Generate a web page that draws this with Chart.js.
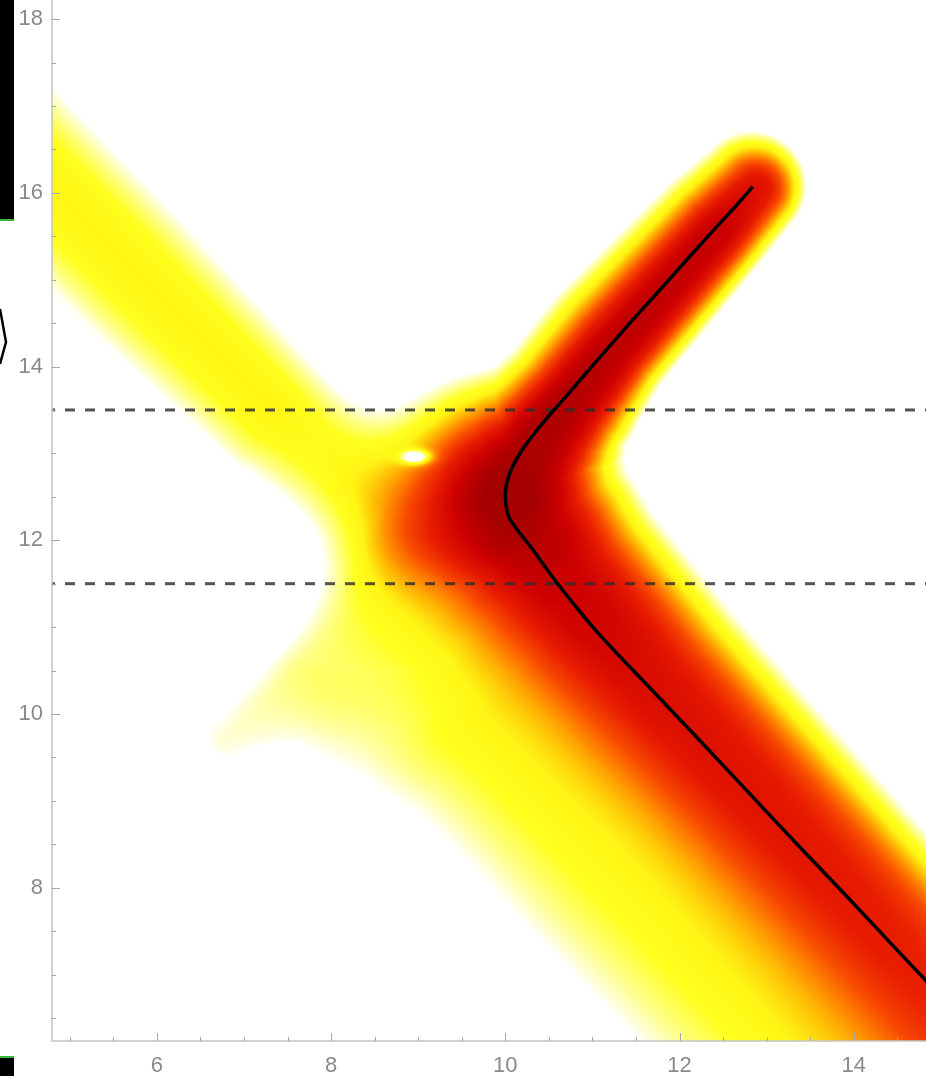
<!DOCTYPE html>
<html>
<head>
<meta charset="utf-8">
<script src="https://cdn.jsdelivr.net/npm/chart.js@4.4.1/dist/chart.umd.min.js"></script>
<style>
  html, body { margin: 0; padding: 0; background: #ffffff; }
  #wrap { width: 926px; height: 1076px; position: relative; }
</style>
</head>
<body>
<div id="wrap"><canvas id="plot" width="926" height="1076"></canvas></div>
<script>
// ---- axes ----
const xRange = [4.795, 14.83];
const yRange = [6.235, 18.22];
const xTicks = [6, 8, 10, 12, 14];
const yTicks = [8, 10, 12, 14, 16, 18];
const minorStep = 0.5;

// ---- dispersion curve (x, y) ----
const curveX = [12.84, 12.63, 12.41, 12.12, 11.80, 11.52, 11.22, 10.95, 10.70, 10.49, 10.31, 10.15, 10.04, 10.00, 10.05, 10.31, 10.60, 11.04, 11.65, 12.20, 12.77, 13.35, 13.93, 14.51, 14.83, 15.16];
const curveY = [16.07, 15.83, 15.59, 15.27, 14.91, 14.60, 14.26, 13.95, 13.66, 13.42, 13.20, 12.97, 12.74, 12.51, 12.25, 11.90, 11.50, 10.96, 10.31, 9.73, 9.12, 8.50, 7.89, 7.27, 6.93, 6.58];

// ---- horizontal cuts ----
const cutLevels = [13.5, 11.5];

// ---- spectral weight bands: [x, y, peak, width right of travel, width left of travel] ----
const bandMain = [
  [12.84, 16.07, 0.78, 0.50, 0.52],
  [12.41, 15.59, 0.88, 0.55, 0.54],
  [11.22, 14.26, 0.92, 0.62, 0.60],
  [10.70, 13.66, 0.95, 0.59, 0.72],
  [10.31, 13.20, 0.97, 0.65, 0.88],
  [10.04, 12.74, 1.00, 0.90, 1.05],
  [10.00, 12.51, 1.02, 1.10, 1.14],
  [10.05, 12.25, 0.98, 1.15, 1.16],
  [10.31, 11.90, 0.92, 1.15, 1.14],
  [10.60, 11.50, 0.86, 1.12, 1.12],
  [11.65, 10.31, 0.78, 1.12, 1.08],
  [12.77, 9.12, 0.75, 1.12, 1.04],
  [13.93, 7.89, 0.72, 1.14, 1.00],
  [15.40, 6.30, 0.68, 1.16, 1.00]
];
const bandUpperLeft = [
  [3.60, 17.25, 0.33, 0.92, 0.92],
  [5.80, 15.05, 0.33, 0.92, 0.85],
  [7.35, 13.50, 0.33, 0.82, 0.74],
  [8.65, 12.35, 0.20, 0.68, 0.68]
];
const bandLower = [
  [8.80, 11.45, 0.12, 1.20, 0.90],
  [9.62, 9.73, 0.25, 1.30, 1.10],
  [11.00, 8.20, 0.25, 1.30, 1.10],
  [12.72, 6.47, 0.25, 1.30, 1.10],
  [13.66, 5.55, 0.25, 1.30, 1.10]
];
const bandFan = [
  [8.90, 11.80, 0.05, 0.55, 0.55],
  [7.60, 10.40, 0.18, 0.55, 1.25],
  [6.80, 9.72, 0.16, 0.55, 0.55]
];
const bands = [bandMain, bandUpperLeft, bandLower, bandFan];
// profile exponent on the [right, left] of travel
const bandSharpness = [[2, 3], [2, 2], [2, 2], [2, 2]];
// spectral zero: [x, y, radius x, radius y]
const dips = [[8.96, 12.96, 0.17, 0.08]];

// ---- colour scale ----
const heatStops = [0.00, 0.14, 0.20, 0.27, 0.34, 0.42, 0.50, 0.60, 0.72, 0.86, 1.00];
const heatColors = [
  [255, 255, 255], [255, 255, 255], [255, 255, 140], [255, 255, 30], [255, 245, 20],
  [255, 190, 5], [255, 135, 0], [248, 75, 0], [232, 28, 0], [205, 0, 0], [165, 0, 0]
];

function heatColor(v) {
  if (v <= heatStops[0]) return heatColors[0];
  for (let i = 1; i < heatStops.length; i++) {
    if (v <= heatStops[i]) {
      const t = (v - heatStops[i - 1]) / (heatStops[i] - heatStops[i - 1]);
      const a = heatColors[i - 1], b = heatColors[i];
      return [a[0] + (b[0] - a[0]) * t, a[1] + (b[1] - a[1]) * t, a[2] + (b[2] - a[2]) * t];
    }
  }
  return heatColors[heatColors.length - 1];
}

// strongest contribution of any segment of a band
function bandValue(band, sharp, x, y) {
  let v = 0;
  for (let i = 0; i < band.length - 1; i++) {
    const n0 = band[i], n1 = band[i + 1];
    const dx = n1[0] - n0[0], dy = n1[1] - n0[1];
    const len = Math.sqrt(dx * dx + dy * dy);
    let t = ((x - n0[0]) * dx + (y - n0[1]) * dy) / (len * len);
    t = t < 0 ? 0 : (t > 1 ? 1 : t);
    const ex = n0[0] + t * dx - x, ey = n0[1] + t * dy - y;
    const dist = Math.sqrt(ex * ex + ey * ey);
    // -1 on the right of travel, +1 on the left, blended round the end caps
    const s = dist > 1e-9 ? (dx * (y - n0[1]) - dy * (x - n0[0])) / (len * dist) : 0;
    const sc = s > 1 ? 1 : (s < -1 ? -1 : s);
    const peak = n0[2] + (n1[2] - n0[2]) * t;
    const wr = n0[3] + (n1[3] - n0[3]) * t;
    const wl = n0[4] + (n1[4] - n0[4]) * t;
    const w = wr * (1 - sc) / 2 + wl * (1 + sc) / 2;
    const p = sharp[0] * (1 - sc) / 2 + sharp[1] * (1 + sc) / 2;
    const val = peak * Math.exp(-Math.pow(dist / w, p));
    if (val > v) v = val;
  }
  return v;
}

function spectralWeight(x, y) {
  let v = 0;
  for (let b = 0; b < bands.length; b++) v += bandValue(bands[b], bandSharpness[b], x, y);
  for (const d of dips) {
    const u = (x - d[0]) / d[2], w = (y - d[1]) / d[3];
    v *= 1 - Math.exp(-(u * u + w * w));
  }
  return v;
}

// density map painted under the axes, sampled through the chart scales
let heatCache = null;
const heatLayer = {
  id: 'heatLayer',
  beforeDraw(chart) {
    const { ctx, chartArea: a, scales: { x, y } } = chart;
    const w = Math.round(a.right - a.left), h = Math.round(a.bottom - a.top);
    if (!heatCache || heatCache.width !== w || heatCache.height !== h) {
      heatCache = document.createElement('canvas');
      heatCache.width = w; heatCache.height = h;
      const hctx = heatCache.getContext('2d');
      const img = hctx.createImageData(w, h);
      const xs = new Float64Array(w), ys = new Float64Array(h);
      for (let i = 0; i < w; i++) xs[i] = x.getValueForPixel(a.left + i + 0.5);
      for (let j = 0; j < h; j++) ys[j] = y.getValueForPixel(a.top + j + 0.5);
      let k = 0;
      for (let j = 0; j < h; j++) {
        for (let i = 0; i < w; i++) {
          const c = heatColor(spectralWeight(xs[i], ys[j]));
          img.data[k++] = c[0]; img.data[k++] = c[1]; img.data[k++] = c[2]; img.data[k++] = 255;
        }
      }
      hctx.putImageData(img, 0, 0);
    }
    ctx.drawImage(heatCache, a.left, a.top);
  }
};

// axis lines and inward tick marks
const axisFrame = {
  id: 'axisFrame',
  afterDraw(chart) {
    const { ctx, chartArea: a, scales: { x, y } } = chart;
    ctx.save();
    ctx.strokeStyle = '#c4c4c4';
    ctx.lineWidth = 1.5;
    ctx.beginPath();
    ctx.moveTo(a.left, a.top); ctx.lineTo(a.left, a.bottom); ctx.lineTo(a.right, a.bottom);
    ctx.stroke();
    ctx.strokeStyle = '#a8a8a8';
    ctx.lineWidth = 1;
    ctx.beginPath();
    for (let v = Math.ceil(xRange[0] / minorStep) * minorStep; v <= xRange[1]; v += minorStep) {
      const px = Math.round(x.getPixelForValue(v)) + 0.5;
      const len = xTicks.includes(v) ? 8 : 4;
      ctx.moveTo(px, a.bottom); ctx.lineTo(px, a.bottom - len);
    }
    for (let v = Math.ceil(yRange[0] / minorStep) * minorStep; v <= yRange[1]; v += minorStep) {
      const py = Math.round(y.getPixelForValue(v)) + 0.5;
      const len = yTicks.includes(v) ? 8 : 4;
      ctx.moveTo(a.left, py); ctx.lineTo(a.left + len, py);
    }
    ctx.stroke();
    ctx.restore();
  }
};

// edge of the neighbouring panel on the left
const sidePanelEdge = {
  id: 'sidePanelEdge',
  afterDraw(chart) {
    const ctx = chart.ctx;
    ctx.save();
    ctx.fillStyle = '#000000';
    ctx.fillRect(0, 0, 14, 219);
    ctx.fillRect(0, 1058, 14, 18);
    ctx.fillStyle = '#3cb83c';
    ctx.fillRect(0, 219, 14, 2);
    ctx.fillRect(0, 1056, 14, 2);
    ctx.strokeStyle = '#000000';
    ctx.lineWidth = 2.5;
    ctx.beginPath();
    ctx.moveTo(0, 309); ctx.lineTo(6, 342); ctx.lineTo(0, 364);
    ctx.stroke();
    ctx.restore();
  }
};

const curvePoints = curveX.map((v, i) => ({ x: v, y: curveY[i] }));
const cutSets = cutLevels.map(level => ({
  data: [{ x: xRange[0], y: level }, { x: xRange[1], y: level }],
  showLine: true,
  borderColor: 'rgba(45,45,45,0.82)',
  borderWidth: 3,
  borderDash: [10, 10],
  borderDashOffset: 7,
  pointRadius: 0
}));

new Chart(document.getElementById('plot'), {
  type: 'scatter',
  data: {
    datasets: [
      {
        data: curvePoints,
        showLine: true,
        borderColor: '#000000',
        borderWidth: 3.5,
        tension: 0.3,
        pointRadius: 0
      },
      ...cutSets
    ]
  },
  options: {
    responsive: false,
    animation: false,
    events: [],
    layout: { padding: 0 },
    plugins: { legend: { display: false }, tooltip: { enabled: false } },
    scales: {
      x: {
        type: 'linear',
        min: xRange[0], max: xRange[1],
        grid: { display: false, drawTicks: false },
        border: { display: false },
        afterBuildTicks(s) { s.ticks = xTicks.map(v => ({ value: v })); },
        afterFit(s) { s.height = 35; s.paddingLeft = 0; s.paddingRight = 0; },
        ticks: {
          color: '#8a8a8a',
          padding: 12,
          maxRotation: 0,
          font: { family: 'Liberation Sans', size: 22 },
          callback: v => String(v)
        }
      },
      y: {
        type: 'linear',
        min: yRange[0], max: yRange[1],
        grid: { display: false, drawTicks: false },
        border: { display: false },
        afterBuildTicks(s) { s.ticks = yTicks.map(v => ({ value: v })); },
        afterFit(s) { s.width = 52; s.paddingTop = 0; s.paddingBottom = 0; },
        ticks: {
          color: '#8a8a8a',
          padding: 9,
          font: { family: 'Liberation Sans', size: 22 },
          callback: v => String(v)
        }
      }
    }
  },
  plugins: [heatLayer, axisFrame, sidePanelEdge]
});
</script>
</body>
</html>
